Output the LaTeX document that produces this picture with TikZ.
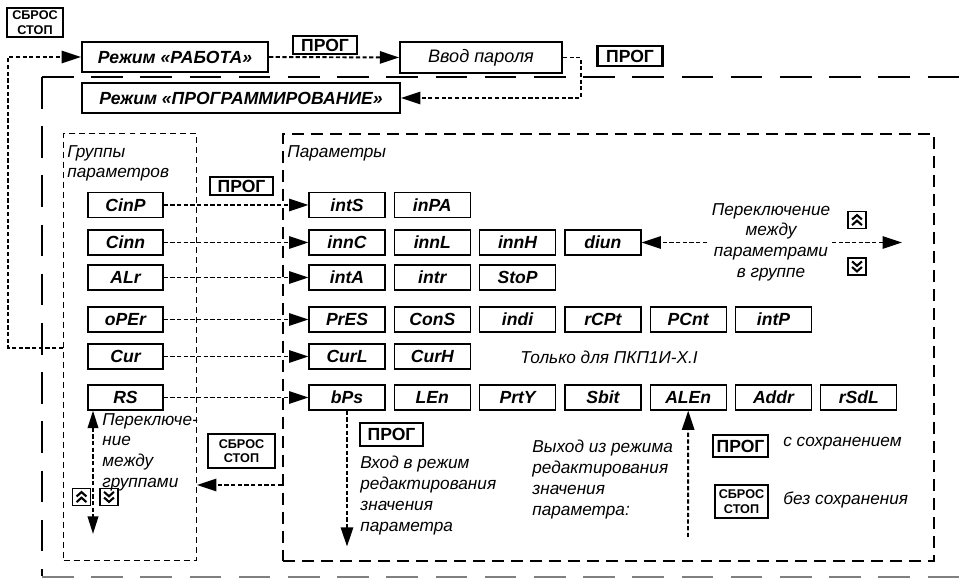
\documentclass[tikz,border=0pt]{standalone}
\usepackage{fontspec}
\setmainfont{Liberation Sans}
\usetikzlibrary{arrows.meta}
\begin{document}
\begin{tikzpicture}[x=0.02cm,y=-0.02cm,
  pbox/.style={draw, line width=0.7pt, inner sep=0pt, minimum width=1.52cm, minimum height=0.5cm, font=\fontsize{10}{11}\selectfont\bfseries\itshape},
  gbox/.style={pbox, minimum width=1.5cm},
  modebox/.style={draw, line width=1.2pt, inner sep=0pt, minimum height=0.6cm, font=\fontsize{10}{12}\selectfont\bfseries\itshape},
  progbox/.style={draw, line width=1.2pt, inner sep=0pt, font=\fontsize{10}{12}\selectfont\bfseries},
  sbrosbox/.style={draw, line width=1.2pt, inner sep=0pt, align=center, font=\fontsize{7.2}{8.2}\selectfont\bfseries},
  note/.style={inner sep=0pt, font=\fontsize{9.8}{11.8}\selectfont\itshape},
  dotline/.style={line width=1.1pt, dash pattern=on 2.4pt off 1.4pt},
  conn/.style={dotline, -{Triangle[length=11pt,width=7pt]}},
  outer/.style={line width=1.2pt, dash pattern=on 18pt off 10pt},
  gframe/.style={draw, line width=0.6pt, dash pattern=on 3.4pt off 2.3pt, inner sep=0pt, anchor=north west},
  pframe/.style={draw, line width=1.2pt, dash pattern=on 6.8pt off 4pt, inner sep=0pt, anchor=north west},
  chev/.style={draw, line width=1.1pt, minimum width=0.36cm, minimum height=0.34cm, inner sep=0pt},
  chevup/.style={chev, path picture={
     \draw[line width=1.2pt] ([shift={(-2.8pt,0.3pt)}]path picture bounding box.center) -- ++(2.8pt,2.5pt) -- ++(2.8pt,-2.5pt);
     \draw[line width=1.2pt] ([shift={(-2.8pt,-2.9pt)}]path picture bounding box.center) -- ++(2.8pt,2.5pt) -- ++(2.8pt,-2.5pt);}},
  chevdown/.style={chev, path picture={
     \draw[line width=1.2pt] ([shift={(-2.8pt,-0.3pt)}]path picture bounding box.center) -- ++(2.8pt,-2.5pt) -- ++(2.8pt,2.5pt);
     \draw[line width=1.2pt] ([shift={(-2.8pt,2.9pt)}]path picture bounding box.center) -- ++(2.8pt,-2.5pt) -- ++(2.8pt,2.5pt);}}
]
\useasboundingbox (0,0) rectangle (971,580);

% outer frame
\draw[outer] (42,77) -- (971,77);
\draw[outer] (42,77) -- (42,576);
\draw[outer, gray] (42,577) -- (971,577);

% top modes
\node[sbrosbox, minimum width=1.12cm, minimum height=0.58cm] (sb1) at (35,22.5) {СБРОС\\СТОП};
\node[modebox, minimum width=3.72cm] (work) at (175,57) {Режим «РАБОТА»};
\node[progbox, minimum width=1.28cm, minimum height=0.36cm] (pg1) at (325,45) {ПРОГ};
\node[modebox, font=\fontsize{10.3}{12}\selectfont\itshape, line width=1pt, minimum width=3.24cm, minimum height=0.62cm] (pass) at (481,57.5) {Ввод пароля};
\node[progbox, minimum width=1.3cm, minimum height=0.4cm] (pg2) at (630,56) {ПРОГ};
\node[modebox, minimum width=6.36cm] (prog) at (241,98) {Режим «ПРОГРАММИРОВАНИЕ»};

\draw[conn] (work.east) -- (pass.west);
\draw[conn] (pass.east) -- ++(18,0) |- (prog.east);

% frames
\node[gframe, minimum width=2.66cm, minimum height=8.54cm] (gfr) at (63,133) {};
\node[pframe, minimum width=13.02cm, minimum height=8.54cm] (pfr) at (282,133) {};
\node[note, anchor=north west, align=left] (gtitle) at (67,145) {Группы\\параметров};
\node[note, anchor=north west] (ptitle) at (287,145) {Параметры};

% loop from groups to work mode
\coordinate (ly) at (0,348);
\coordinate (loopA) at (gfr.west |- ly);
\coordinate (loopB) at (8,348);
\draw[conn] (loopA) -- (loopB) |- (work.west);

% group boxes
\node[gbox] (CinP) at (125.5,205) {CinP};
\node[gbox] (Cinn) at (125.5,242.5) {Cinn};
\node[gbox] (ALr) at (125.5,277.5) {ALr};
\node[gbox] (oPEr) at (125.5,319.5) {oPEr};
\node[gbox] (Cur) at (125.5,356.5) {Cur};
\node[gbox] (RS) at (125.5,397.5) {RS};

% parameter boxes
\foreach \n [count=\i from 0] in {intS,inPA}
  \node[pbox] (\n) at ({347+85.3*\i},205) {\n};
\foreach \n [count=\i from 0] in {innC,innL,innH,diun}
  \node[pbox] (\n) at ({347+85.3*\i},242.5) {\n};
\foreach \n [count=\i from 0] in {intA,intr,StoP}
  \node[pbox] (\n) at ({347+85.3*\i},277.5) {\n};
\foreach \n [count=\i from 0] in {PrES,ConS,indi,rCPt,PCnt,intP}
  \node[pbox] (\n) at ({347+85.3*\i},319.5) {\n};
\foreach \n [count=\i from 0] in {CurL,CurH}
  \node[pbox] (\n) at ({347+85.3*\i},356.5) {\n};
\foreach \n [count=\i from 0] in {bPs,LEn,PrtY,Sbit,ALEn,Addr,rSdL}
  \node[pbox] (\n) at ({347+85.3*\i},397.5) {\n};

\node[progbox, minimum width=1.26cm, minimum height=0.36cm] (pg3) at (241.5,186) {ПРОГ};

\draw[conn] (CinP.east) -- (intS.west);
\draw[conn] (Cinn.east) -- (innC.west);
\draw[conn] (ALr.east) -- (intA.west);
\draw[conn] (oPEr.east) -- (PrES.west);
\draw[conn] (Cur.east) -- (CurL.west);
\draw[conn] (RS.east) -- (bPs.west);

% switching between parameters
\node[note, align=center, anchor=north] (swp) at (771,203) {Переключение\\между\\параметрами\\в группе};
\node[chevup] (cu1) at (857,220) {};
\node[chevdown] (cd1) at (857,266.5) {};
\coordinate (dl) at (707,242.5);
\coordinate (dr1) at (832,242.5);
\coordinate (dr2) at (902,242.5);
\draw[conn] (dl) -- (diun.east);
\draw[conn] (dr1) -- (dr2);

\node[note, anchor=west] (only) at (520,357) {Только для ПКП1И-Х.I};

% switching between groups
\coordinate (gx) at (93,0);
\coordinate (gtop) at (RS.south -| gx);
\coordinate (gbot) at (93,534);
\draw[dotline, {Triangle[length=10pt,width=6pt]}-{Triangle[length=10pt,width=6pt]}] (gtop) -- (gbot);
\node[note, anchor=north west, align=left] (swg) at (102,413) {Переключе-\\ние\\между\\группами};
\node[chevup] (cu2) at (81.5,497) {};
\node[chevdown] (cd2) at (109,497) {};

% reset from parameters to groups
\node[sbrosbox, minimum width=1.34cm, minimum height=0.68cm] (sb2) at (241.5,451) {СБРОС\\СТОП};
\coordinate (sy) at (0,485);
\draw[conn] (pfr.west |- sy) -- (gfr.east |- sy);

% enter editing
\node[progbox, minimum width=1.26cm, minimum height=0.46cm] (pg4) at (391.5,434.5) {ПРОГ};
\draw[conn] (bPs.south) -- ++(0,136);
\node[note, anchor=north west, align=left] (enter) at (360,456) {Вход в режим\\редактирования\\значения\\параметра};

% exit editing
\coordinate (alstart) at (688,537);
\draw[conn] (alstart) -- (ALEn.south);
\node[note, anchor=north west, align=left] (exit) at (532,440) {Выход из режима\\редактирования\\значения\\параметра:};
\node[progbox, minimum width=1.1cm, minimum height=0.44cm] (pg5) at (740.5,446) {ПРОГ};
\node[note, anchor=west] (save) at (783,444) {с сохранением};
\node[sbrosbox, minimum width=1.06cm, minimum height=0.66cm] (sb3) at (741.5,501.5) {СБРОС\\СТОП};
\node[note, anchor=west] (nosave) at (783,500) {без сохранения};
\end{tikzpicture}
\end{document}
